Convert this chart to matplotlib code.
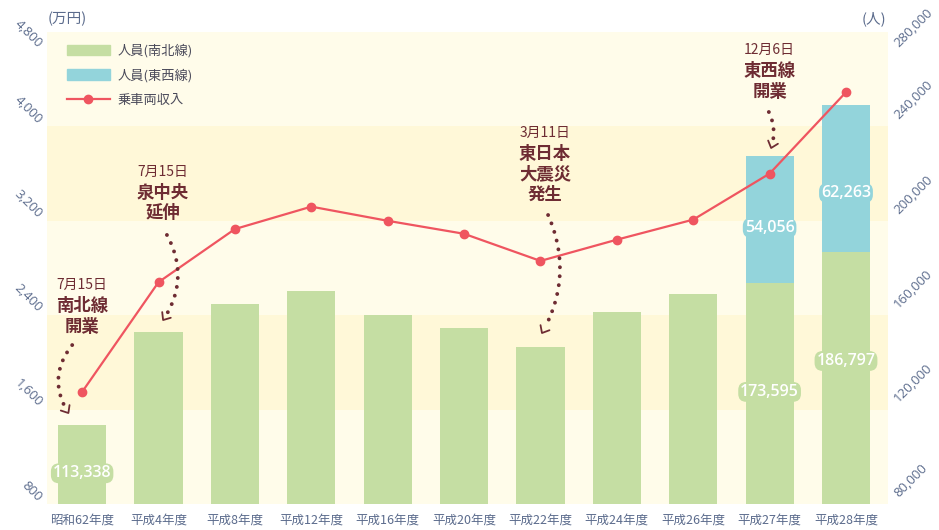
import matplotlib
matplotlib.use("Agg")
import matplotlib.pyplot as plt
from matplotlib.lines import Line2D
from matplotlib.patches import Patch
import numpy as np

plt.rcParams['font.family'] = ['Noto Sans CJK JP', 'DejaVu Sans']

years = ['昭和62年度', '平成4年度', '平成8年度', '平成12年度', '平成16年度', '平成20年度',
         '平成22年度', '平成24年度', '平成26年度', '平成27年度', '平成28年度']
riders_nanboku = [113338, 152900, 164700, 170300, 160100, 154600, 146500, 161400, 169000, 173595, 186797]
riders_tozai = [0, 0, 0, 0, 0, 0, 0, 0, 0, 54056, 62263]
revenue = [1750, 2680, 3130, 3320, 3200, 3090, 2860, 3040, 3210, 3600, 4290]

left_ticks = [800, 1600, 2400, 3200, 4000, 4800]
right_ticks = [80000, 120000, 160000, 200000, 240000, 280000]

GREEN = '#c5dea3'
BLUE = '#93d4db'
RED = '#ef5560'
DARK = '#6e2c33'
TICK = '#5b6b8c'
BAND_A = '#fffcea'
BAND_B = '#fff8d8'
NUMFONT = ['Open Sans', 'DejaVu Sans']

fig = plt.figure(figsize=(9.39, 5.30), dpi=100)
ax2 = fig.add_axes([47 / 939, 26 / 530, 841 / 939, 472 / 530])
ax = ax2.twinx()  # left value axis for revenue, drawn underneath
ax.yaxis.tick_left()

x = np.arange(len(years))
ax.set_ylim(800, 4800)
ax2.set_ylim(80000, 280000)
ax2.set_xlim(-0.46, 10.55)

# background bands, following the left axis grid
for i in range(len(left_ticks) - 1):
    ax.axhspan(left_ticks[i], left_ticks[i + 1], color=BAND_B if i % 2 else BAND_A, lw=0, zorder=0)
ax.set_zorder(0)
ax2.set_zorder(1)
ax2.patch.set_visible(False)

# bars (right axis)
ax2.bar(x, riders_nanboku, width=0.63, color=GREEN, zorder=2)
ax2.bar(x, riders_tozai, bottom=riders_nanboku, width=0.63, color=BLUE, zorder=2)

# revenue line (left axis values, mapped onto ax2 so it is drawn above the bars)
def to_right(v):
    return 80000 + (np.asarray(v, dtype=float) - 800) * 50

ax2.plot(x, to_right(revenue), color=RED, lw=1.6, marker='o', ms=6, zorder=5)

# bar value labels
def bar_label(i, y, text, color):
    ax2.text(i, y, text, ha='center', va='center', color='white', fontsize=11.5,
             fontweight='semibold', fontfamily=NUMFONT, zorder=6,
             bbox=dict(boxstyle='round,pad=0.12,rounding_size=0.5', fc=color, ec=color, lw=0))

bar_label(0, 93000, f'{riders_nanboku[0]:,}', GREEN)
bar_label(9, 127500, f'{riders_nanboku[9]:,}', GREEN)
bar_label(10, 140600, f'{riders_nanboku[10]:,}', GREEN)
bar_label(9, 197000, f'{riders_tozai[9]:,}', BLUE)
bar_label(10, 211800, f'{riders_tozai[10]:,}', BLUE)

# event annotations (positions in left-axis units)
events = [
    (0.0, '7月15日', ['南北線', '開業'], 2656),
    (1.06, '7月15日', ['泉中央', '延伸'], 3614),
    (6.06, '3月11日', ['東日本', '大震災', '発生'], 3944),
    (9.0, '12月6日', ['東西線', '開業'], 4647),
]
for ex, date, lines, ey in events:
    ax2.text(ex, to_right(ey), date, ha='center', va='center', color=DARK, fontsize=10, zorder=7)
    for k, ln in enumerate(lines):
        ax2.text(ex, to_right(ey - 180 - 172 * k), ln, ha='center', va='center', color=DARK,
                 fontsize=12.5, fontweight='bold', zorder=7)

arrows = [
    ((-0.13, 2147), (-0.18, 1571), 0.35),
    ((1.11, 3080), (1.06, 2359), -0.3),
    ((6.10, 3249), (6.02, 2249), -0.25),
    ((8.99, 4122), (9.02, 3817), -0.2),
]
tr = ax2.transData
inv = tr.inverted()
for start, end, rad in arrows:
    p0 = tr.transform((start[0], float(to_right(start[1]))))
    p2 = tr.transform((end[0], float(to_right(end[1]))))
    d = p2 - p0
    c = (p0 + p2) / 2 + rad * np.array([d[1], -d[0]])
    t = np.linspace(0, 0.93, 60)[:, None]
    pts = (1 - t) ** 2 * p0 + 2 * (1 - t) * t * c + t ** 2 * p2
    data = inv.transform(pts)
    ax2.plot(data[:, 0], data[:, 1], color=DARK, lw=2.8, linestyle=(0, (0.01, 2.3)),
             dash_capstyle='round', zorder=7)
    # open chevron head
    u = (p2 - c) / np.linalg.norm(p2 - c)
    head = []
    for ang in (np.radians(40), -np.radians(40)):
        rot = np.array([[np.cos(ang), -np.sin(ang)], [np.sin(ang), np.cos(ang)]])
        head.append(p2 - 8 * rot @ u)
    hp = inv.transform(np.array([head[0], p2, head[1]]))
    ax2.plot(hp[:, 0], hp[:, 1], color=DARK, lw=1.3, solid_capstyle='round', zorder=7)

# axes styling
for a in (ax, ax2):
    for s in a.spines.values():
        s.set_visible(False)
    a.tick_params(length=0)
    a.set_yticks([])

ax2.set_xticks(x)
ax2.set_xticklabels(years, fontsize=9, color=TICK)
ax2.tick_params(axis='x', pad=7)

# rotated value labels on both sides
for v in left_ticks:
    dy = -14 if v == left_ticks[-1] else 5
    ax.annotate(f'{v:,}', xy=(0, v), xycoords=('axes fraction', 'data'),
                xytext=(-7, dy), textcoords='offset pixels', rotation=-45,
                rotation_mode='anchor', ha='right', va='center', fontsize=9.5,
                color=TICK, fontfamily=NUMFONT, annotation_clip=False)
for v in right_ticks:
    dy = -13 if v == right_ticks[-1] else 9
    ax2.annotate(f'{v:,}', xy=(1, v), xycoords=('axes fraction', 'data'),
                 xytext=(8, dy), textcoords='offset pixels', rotation=45,
                 rotation_mode='anchor', ha='left', va='center', fontsize=9.5,
                 color=TICK, fontfamily=NUMFONT, annotation_clip=False)

fig.text(48 / 939, 1 - 19 / 530, '(万円)', ha='left', va='center', fontsize=10.5, color=TICK)
fig.text(886 / 939, 1 - 19 / 530, '(人)', ha='right', va='center', fontsize=10.5, color=TICK)

handles = [Patch(color=GREEN), Patch(color=BLUE),
           Line2D([0], [0], color=RED, lw=1.6, marker='o', ms=6)]
leg = ax2.legend(handles, ['人員(南北線)', '人員(東西線)', '乗車両収入'], loc='upper left',
                 bbox_to_anchor=(0.01, 1.0), frameon=False, fontsize=9.5,
                 handlelength=3.2, handleheight=0.9, labelspacing=0.85, handletextpad=0.6)
for t in leg.get_texts():
    t.set_color('#4a4a5a')

fig.savefig('out.png', dpi=100)
